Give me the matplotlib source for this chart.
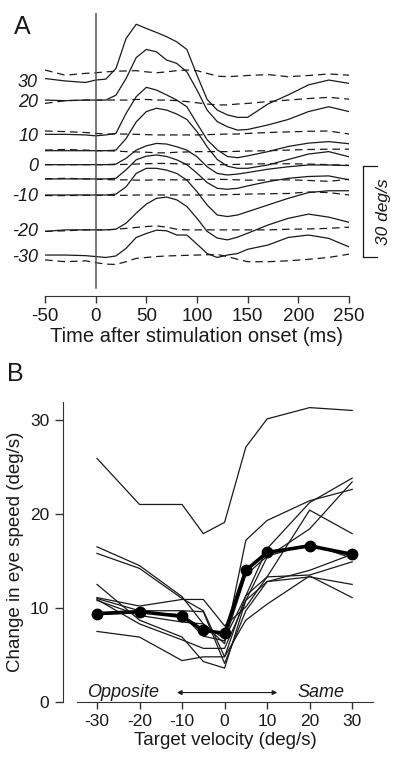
import numpy as np
import matplotlib
matplotlib.use('Agg')
import matplotlib.pyplot as plt

plt.rcParams['font.family'] = ['Liberation Sans', 'DejaVu Sans']
plt.rcParams['lines.scale_dashes'] = False
plt.rcParams['axes.unicode_minus'] = False

# ---- panel A: eye speed traces, deg/s relative to pre-stimulus level ----
time_ms = [-50, -30, -10, 0, 10, 20, 30, 40, 50, 60, 70, 80, 90, 100,
           110, 120, 130, 140, 150, 170, 190, 210, 230, 250]
trace_velocity = [30, 20, 10, 5, 0, -5, -10, -20, -30]
trace_offset = [71.2, 64.6, 53.1, 47.9, 43.3, 38.6, 33.3, 21.8, 13.5]   # stacking

solid_traces = [
    [0.5, -0.3, -0.8, 0, 0.3, 3.8, 13.7, 18.4, 17.0, 15.7, 14.3, 12.6, 10.1, 1.6,
     -6.4, -9.9, -11.5, -12.3, -12.3, -7.9, -4.9, -1.6, 0, -1.1],
    [0, -0.2, 0, 0, 0, 1.6, 7.1, 14.0, 16.7, 15.9, 13.2, 12.1, 9.3, 3.3,
     -3.3, -7.1, -8.8, -9.9, -9.7, -8.2, -6.4, -3.8, -2.2, -3.8],
    [0.2, 0.2, 0, -0.3, 0, 0.5, 7.1, 12.6, 15.7, 14.8, 13.2, 11.5, 9.3, 3.8,
     -1.6, -4.9, -7.1, -7.5, -6.9, -5.5, -3.8, -2.7, -2.2, -2.9],
    [0, 0, 0, 0, 0, 0.2, 4.0, 9.5, 12.9, 14.0, 13.4, 12.1, 10.3, 6.3,
     1.3, -2.9, -5.1, -5.8, -5.8, -4.7, -2.9, -1.1, -0.3, -2.0],
    [0, 0, 0, 0, 0, 0.2, 2.1, 4.8, 6.2, 7.0, 6.8, 5.9, 4.8, 2.6,
     -0.7, -2.9, -3.4, -3.1, -2.6, -1.5, -0.7, -0.1, -0.1, -0.3],
    [0, 0, 0, 0, 0, 0.2, 3.0, 6.3, 7.5, 7.9, 7.4, 6.3, 4.7, 1.9,
     -1.2, -3.1, -3.4, -3.1, -2.3, -0.9, 0.2, 0.8, 1.0, -0.3],
    [0, 0, 0, 0, 0, 0.3, 2.7, 7.1, 8.8, 8.8, 8.2, 7.1, 4.9, 1.1,
     -3.3, -6.6, -7.1, -6.6, -5.5, -3.3, -1.1, 0.8, 1.4, 1.4],
    [-0.5, 0, 0, 0, 0, 0.2, 2.2, 5.5, 8.5, 10.4, 10.8, 9.9, 7.7, 3.8,
     -0.5, -2.7, -3.3, -2.4, -1.1, 1.6, 3.8, 5.2, 4.2, 2.5],
    [0, 0, -0.2, -0.5, -0.8, -0.3, 2.2, 5.8, 7.1, 8.2, 8.0, 6.6, 6.6, 3.6,
     0.5, -0.8, 0, 0.5, 1.9, 3.3, 5.8, 6.6, 5.5, 2.7],
]
dashed_traces = [
    [3.3, 1.6, 2.2, 2.4, 2.7, 2.9, 3.0, 3.1, 2.7, 2.4, 2.7, 3.1, 3.3, 3.1,
     2.2, 1.3, 1.1, 1.3, 1.5, 1.8, 1.1, 1.5, 2.0, 1.6],
    [-1.1, -0.2, 0, 0, 0, 0, 0, 0.2, 0.2, 0, 0, -0.2, -0.5, -0.9,
     -1.3, -1.6, -1.6, -1.3, -1.1, -0.5, 0, 0.5, 0.9, 0.3],
    [1.3, 1.1, 0.8, 0.5, 0.3, 0.3, 0.3, 0.2, 0.1, 0, 0, 0, 0, 0,
     0.1, 0.2, 0.3, 0.3, 0.5, 0.8, 1.0, 1.2, 1.3, 0.3],
    [0.2, 0.4, 0.2, 0, 0, -0.1, -0.3, -0.4, -0.5, -0.7, -0.7, -0.5, -0.4, -0.3,
     -0.3, -0.3, -0.3, -0.2, -0.1, 0, 0.2, 0.4, 0.5, 0.5],
    [0, 0, 0, 0, 0, 0, 0.1, 0.2, 0.3, 0.4, 0.4, 0.3, 0.2, 0.1,
     0, 0, 0, 0.1, 0.2, 0.3, 0.3, 0.2, 0, -0.2],
    [0, 0.2, 0, -0.1, -0.2, -0.3, -0.3, -0.4, -0.4, -0.3, -0.3, -0.3, -0.3, -0.2,
     -0.1, -0.1, -0.2, -0.3, -0.4, -0.4, -0.3, -0.5, -0.8, -0.1],
    [-0.2, -0.2, -0.1, -0.1, -0.1, -0.1, -0.1, 0, 0, 0, 0, 0, 0, 0,
     0, 0, 0.1, 0.2, 0.3, 0.4, 0.5, 1.0, 0.8, 0],
    [-0.5, -0.3, 0, 0, 0, 0.2, 0.5, 0.8, 1.1, 1.3, 0.9, 0.2, 0, 0,
     0, 0, 0, 0, 0, 0, 0.2, 0.3, 0.5, 0.9],
    [-1.6, -2.2, -1.9, -2.5, -3.0, -3.1, -2.2, -1.1, -0.8, -0.5, -0.3, -0.2, -0.1, 0,
     0.1, 0.2, -0.5, -1.4, -2.2, -2.2, -1.9, -1.4, -0.8, 0.3],
]
labelled_velocity = [30, 20, 10, 0, -10, -20, -30]

# ---- panel B: change in eye speed vs target velocity ----
target_vel = [-30, -20, -10, -5, 0, 5, 10, 20, 30]
mean_change = [9.4, 9.6, 9.1, 7.6, 7.3, 14.0, 15.9, 16.6, 15.7]
single_changes = [
    [25.9, 21.0, 21.0, 17.9, 19.1, 27.1, 30.1, 31.3, 31.0],
    [16.5, 14.5, 11.2, 8.3, 6.2, 17.2, 19.3, 21.4, 22.6],
    [15.8, 14.2, 11.0, 9.7, 4.8, 11.3, 16.3, 21.2, 23.8],
    [12.5, 8.7, 6.9, 4.3, 3.6, 10.8, 15.4, 18.4, 23.4],
    [11.1, 10.2, 10.9, 10.9, 8.1, 10.1, 13.3, 20.4, 17.9],
    [10.9, 8.3, 6.6, 5.7, 5.7, 10.8, 12.8, 14.0, 15.7],
    [10.8, 9.2, 8.5, 8.3, 6.7, 11.3, 13.3, 13.5, 14.9],
    [11.0, 9.7, 9.7, 9.6, 4.1, 9.7, 12.8, 13.3, 12.5],
    [7.5, 6.9, 4.4, 4.8, 4.8, 8.7, 10.4, 13.4, 11.1],
    [9.3, 9.5, 9.3, 7.0, 6.5, 13.5, 15.5, 16.8, 15.3],
]

ink = '#1a1a1a'
fig = plt.figure(figsize=(4.0, 7.57), dpi=100)

# ----- A -----
ax = fig.add_axes([0.1125, 0.609, 0.76, 0.3738])
t = np.array(time_ms)
for off, s, d in zip(trace_offset, solid_traces, dashed_traces):
    ax.plot(t, off + np.array(s), color=ink, lw=0.9)
    ax.plot(t, off + np.array(d), color=ink, lw=0.9, ls=(0, (5.5, 3.5)))
ax.plot([0, 0], [2.5, 93.3], color='#555555', lw=1.1)

ax.set_xlim(-50, 250)
ax.set_ylim(0, 93.3)
for sp in ['top', 'right', 'left']:
    ax.spines[sp].set_visible(False)
ax.spines['bottom'].set_color('#333333')
ax.set_xticks([-50, 0, 50, 100, 150, 200, 250])
ax.tick_params(axis='x', direction='out', length=5, width=1, colors='#333333',
               labelsize=13.5, labelcolor=ink, pad=4)
ypos = [trace_offset[trace_velocity.index(v)] for v in labelled_velocity]
ax.set_yticks(ypos)
ax.set_yticklabels([str(v) for v in labelled_velocity], fontstyle='italic')
ax.tick_params(axis='y', length=0, labelsize=13, labelcolor=ink, pad=5)
ax.set_xlabel('Time after stimulation onset (ms)', fontsize=14.5, color=ink, labelpad=1)

# scale bar
ax.plot([263.8, 263.8], [12.9, 42.9], color=ink, lw=0.9, clip_on=False)
ax.plot([263.8, 277.6], [42.9, 42.9], color=ink, lw=0.9, clip_on=False)
ax.plot([263.8, 277.6], [12.9, 12.9], color=ink, lw=0.9, clip_on=False)
ax.text(284, 27.9, '30 deg/s', rotation=90, fontstyle='italic', fontsize=12.5,
        ha='center', va='center', color=ink)

fig.text(14 / 400, 1 - 34 / 757, 'A', fontsize=18, color=ink, va='baseline')

# ----- B -----
bx = fig.add_axes([0.1925, 0.0727, 0.74, 0.3963])
for vals in single_changes:
    bx.plot(target_vel, vals, color=ink, lw=0.9)
bx.plot(target_vel, mean_change, color='black', lw=2.6, marker='o', ms=7.5)

bx.set_xlim(-34.7, 34.9)
bx.set_ylim(0, 31.9)
bx.spines['top'].set_visible(False)
bx.spines['right'].set_visible(False)
bx.spines['left'].set_position(('outward', 10))
for sp in ['left', 'bottom']:
    bx.spines[sp].set_color('#333333')
bx.set_xticks([-30, -20, -10, 0, 10, 20, 30])
bx.set_yticks([0, 10, 20, 30])
bx.tick_params(axis='x', direction='out', length=5, width=1, colors='#333333',
               labelsize=12.5, labelcolor=ink, pad=4)
bx.tick_params(axis='y', direction='out', length=6, width=1, colors='#333333',
               labelsize=12.5, labelcolor=ink, pad=4)
bx.set_xlabel('Target velocity (deg/s)', fontsize=13.5, color=ink, labelpad=2)
bx.set_ylabel('Change in eye speed (deg/s)', fontsize=13.5, color=ink, labelpad=4)

bx.annotate('', xy=(12.4, 1.0), xytext=(-11.2, 1.0),
            arrowprops=dict(arrowstyle='<|-|>', lw=0.8, color=ink, mutation_scale=7,
                            shrinkA=0, shrinkB=0))
bx.text(-23.8, 0.55, 'Opposite', fontstyle='italic', fontsize=13, ha='center',
        va='baseline', color=ink)
bx.text(22.6, 0.55, 'Same', fontstyle='italic', fontsize=13, ha='center',
        va='baseline', color=ink)

fig.text(7 / 400, 1 - 381 / 757, 'B', fontsize=18, color=ink, va='baseline')

fig.savefig('out.png', dpi=100, facecolor='white')
